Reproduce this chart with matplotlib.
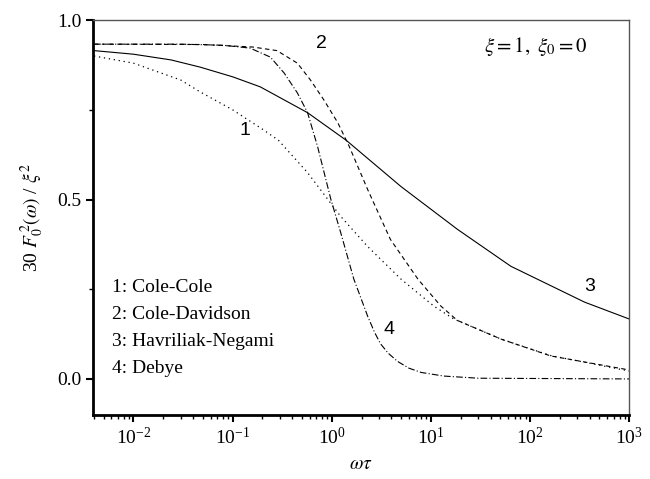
import matplotlib
matplotlib.use('Agg')
import matplotlib.pyplot as plt
from matplotlib.ticker import LogLocator, MultipleLocator, NullFormatter

plt.rcParams['font.family'] = ['Liberation Serif', 'DejaVu Serif']
plt.rcParams['mathtext.fontset'] = 'stix'

# curve 1: Cole-Cole (dotted)
cc_x = [0.004, 0.01, 0.03, 0.047, 0.1, 0.205, 0.29, 0.57, 1.23, 2.3, 5, 10.7, 17, 51, 162, 1000]
cc_y = [0.90, 0.88, 0.833, 0.80, 0.75, 0.694, 0.665, 0.575, 0.453, 0.369, 0.278, 0.203, 0.167, 0.111, 0.065, 0.022]

# curve 2: Cole-Davidson (dashed)
cd_x = [0.004, 0.05, 0.16, 0.28, 0.45, 0.61, 0.83, 1.15, 1.5, 2.3, 3.9, 7.4, 12.6, 18.5, 51, 162, 1000]
cd_y = [0.933, 0.932, 0.925, 0.915, 0.88, 0.833, 0.778, 0.714, 0.648, 0.528, 0.389, 0.278, 0.203, 0.163, 0.111, 0.064, 0.025]

# curve 3: Havriliak-Negami (solid)
hn_x = [0.004, 0.01, 0.024, 0.047, 0.1, 0.19, 0.57, 1.4, 5, 18.5, 64, 355, 1000]
hn_y = [0.915, 0.905, 0.889, 0.869, 0.842, 0.814, 0.742, 0.665, 0.536, 0.417, 0.314, 0.214, 0.167]

# curve 4: Debye (dash-dot)
db_x = [0.004, 0.03, 0.08, 0.15, 0.24, 0.33, 0.45, 0.57, 0.72, 0.98, 1.23, 1.67, 2.3, 2.7, 3.1, 3.7, 4.6, 6, 8, 13.5, 30, 1000]
db_y = [0.933, 0.933, 0.930, 0.922, 0.897, 0.853, 0.797, 0.742, 0.647, 0.5, 0.408, 0.278, 0.175, 0.130, 0.098, 0.072, 0.049, 0.030, 0.018, 0.008, 0.002, 0.0]

legend_lines = ['1: Cole-Cole', '2: Cole-Davidson', '3: Havriliak-Negami', '4: Debye']

fig = plt.figure(figsize=(6.5, 4.79), dpi=100)
ax = fig.add_axes([0.143, 0.134, 0.825, 0.824])

ax.plot(cc_x, cc_y, color='black', lw=0.9, linestyle=(0, (1, 3)))
ax.plot(cd_x, cd_y, color='black', lw=0.8, linestyle=(0, (4, 3)))
ax.plot(hn_x, hn_y, color='black', lw=0.8, linestyle='-')
ax.plot(db_x, db_y, color='black', lw=0.8, linestyle=(0, (6, 2, 1, 2)))

ax.set_xscale('log')
ax.set_xlim(0.0039, 1000)
ax.set_ylim(-0.1, 1.0)

ax.xaxis.set_major_locator(LogLocator(base=10, numticks=10))
ax.xaxis.set_minor_locator(LogLocator(base=10, subs=range(2, 10), numticks=20))
ax.xaxis.set_minor_formatter(NullFormatter())
ax.yaxis.set_major_locator(MultipleLocator(0.5))
ax.yaxis.set_minor_locator(MultipleLocator(0.25))
ax.yaxis.set_major_formatter(plt.FormatStrFormatter('%.1f'))

ax.tick_params(which='both', direction='out', top=False, right=False, labelsize=14)
ax.tick_params(which='major', length=5, width=1.5)
ax.tick_params(which='minor', length=3, width=1.0)

for side in ['left', 'bottom']:
    ax.spines[side].set_linewidth(2)
for side in ['top', 'right']:
    ax.spines[side].set_linewidth(1)
    ax.spines[side].set_color('#555555')

ax.set_xlabel(r'$\omega\tau$', fontsize=14, labelpad=6)
ax.set_ylabel(r'30 $F_0^{\,2}(\omega)$ / $\xi^2$', fontsize=14, labelpad=8)

for i, s in enumerate(legend_lines):
    ax.text(0.035, 0.31 - i * 0.068, s, transform=ax.transAxes, fontsize=14)

ax.text(0.73, 0.92, r'$\xi = 1,\ \xi_0 = 0$', transform=ax.transAxes, fontsize=15)

num_font = ['Liberation Sans', 'DejaVu Sans']
ax.text(0.284, 0.72, '1', family=num_font, fontsize=14, ha='center', va='center', transform=ax.transAxes)
ax.text(0.427, 0.94, '2', family=num_font, fontsize=14, ha='center', va='center', transform=ax.transAxes)
ax.text(0.926, 0.325, '3', family=num_font, fontsize=14, ha='center', va='center', transform=ax.transAxes)
ax.text(0.553, 0.215, '4', family=num_font, fontsize=14, ha='center', va='center', transform=ax.transAxes)

fig.savefig('out.png', dpi=100)
